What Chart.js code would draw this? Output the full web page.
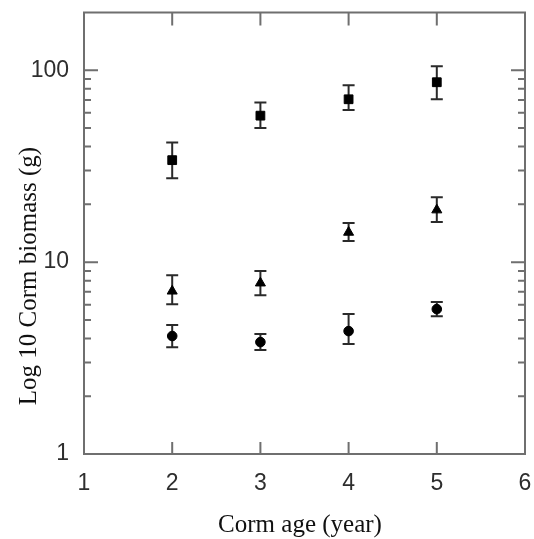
<!DOCTYPE html>
<html>
<head>
<meta charset="utf-8">
<script src="https://cdn.jsdelivr.net/npm/chart.js@4.4.1/dist/chart.umd.min.js"></script>
<style>
    html, body { margin: 0; padding: 0; background: #ffffff; }
    #box { width: 534px; height: 539px; }
</style>
</head>
<body>
<div id="box"><canvas id="biomasse"></canvas></div>
<script>
//------------------ DONNEES ------------------

const ages = [2, 3, 4, 5];

// carrés
const carres = [34, 58, 70.6, 86.6];
const carresBas = [27.4, 50, 62, 70.6];
const carresHaut = [42, 68, 83.5, 105];

// triangles
const triangles = [7.06, 7.78, 14.3, 18.7];
const trianglesBas = [6.04, 6.73, 12.9, 16.2];
const trianglesHaut = [8.55, 8.98, 16, 21.8];

// ronds
const ronds = [4.12, 3.83, 4.37, 5.69];
const rondsBas = [3.6, 3.48, 3.74, 5.23];
const rondsHaut = [4.7, 4.22, 5.36, 6.19];

const ticksX = [1, 2, 3, 4, 5, 6];
const ticksYMajeurs = [1, 10, 100];

//------------------------------------------------------------------

const points = (vals) => ages.map((a, i) => ({ x: a, y: vals[i] }));

const series = [
    { data: points(carres), bas: carresBas, haut: carresHaut, style: 'rect', rayon: 6.2 },
    { data: points(triangles), bas: trianglesBas, haut: trianglesHaut, style: 'triangle', rayon: 5.8 },
    { data: points(ronds), bas: rondsBas, haut: rondsHaut, style: 'circle', rayon: 4.8 }
];

const gris = '#6f6f6f';

// barres d'erreur dessinées avec les échelles du graphique
const barresErreur = {
    id: 'barresErreur',
    beforeDatasetsDraw(chart) {
        const c = chart.ctx;
        const sx = chart.scales.x, sy = chart.scales.y;
        c.save();
        c.strokeStyle = '#2a2a2a';
        c.lineWidth = 2;
        series.forEach(s => {
            ages.forEach((a, i) => {
                const px = sx.getPixelForValue(a);
                const y1 = sy.getPixelForValue(s.bas[i]);
                const y2 = sy.getPixelForValue(s.haut[i]);
                c.beginPath();
                c.moveTo(px, y1); c.lineTo(px, y2);
                c.moveTo(px - 6, y1); c.lineTo(px + 6, y1);
                c.moveTo(px - 6, y2); c.lineTo(px + 6, y2);
                c.stroke();
            });
        });
        c.restore();
    }
};

// cadre + graduations vers l'intérieur (gauche/droite/haut/bas)
const cadre = {
    id: 'cadre',
    afterDraw(chart) {
        const c = chart.ctx;
        const a = chart.chartArea;
        const sx = chart.scales.x, sy = chart.scales.y;
        c.save();
        c.strokeStyle = gris;
        c.lineWidth = 2;
        c.strokeRect(a.left, a.top, a.right - a.left, a.bottom - a.top);

        c.beginPath();
        // graduations x (haut et bas)
        ticksX.slice(1, -1).forEach(v => {
            const px = sx.getPixelForValue(v);
            c.moveTo(px, a.bottom); c.lineTo(px, a.bottom - 12);
            c.moveTo(px, a.top); c.lineTo(px, a.top + 13);
        });
        // graduations y log
        for (let dec = 1; dec <= 100; dec *= 10) {
            for (let k = 1; k <= 9; k++) {
                const v = dec * k;
                if (v <= sy.min || v >= sy.max) continue;
                const py = sy.getPixelForValue(v);
                const long = k === 1 ? 14 : 7;
                c.moveTo(a.left, py); c.lineTo(a.left + long, py);
                c.moveTo(a.right, py); c.lineTo(a.right - long, py);
            }
        }
        c.stroke();

        // titres des axes
        c.fillStyle = '#111111';
        c.font = '25px "Liberation Serif", serif';
        c.textAlign = 'center';
        c.textBaseline = 'middle';
        c.fillText('Corm age (year)', 300, 525);
        c.translate(29, 276);
        c.rotate(-Math.PI / 2);
        c.fillText('Log 10 Corm biomass (g)', 0, 0);
        c.restore();
    }
};

const ctx = document.getElementById('biomasse').getContext('2d');

new Chart(ctx, {
    type: 'scatter',
    plugins: [barresErreur, cadre],
    data: {
        datasets: series.map(s => ({
            data: s.data,
            pointStyle: s.style,
            pointRadius: s.rayon,
            pointHoverRadius: s.rayon,
            backgroundColor: '#000000',
            borderColor: '#000000',
            borderWidth: 1
        }))
    },
    options: {
        responsive: true,
        maintainAspectRatio: false,
        animation: false,
        layout: {
            padding: { top: 12.5, right: 9, left: 0, bottom: 0 }
        },
        scales: {
            x: {
                type: 'linear',
                min: 1,
                max: 6,
                grid: { display: false },
                border: { display: false },
                afterBuildTicks: (scale) => { scale.ticks = ticksX.map(v => ({ value: v })); },
                afterFit: (scale) => {
                    scale.height = 85;
                    scale.paddingLeft = 0;
                    scale.paddingRight = 0;
                },
                ticks: {
                    padding: 8,
                    color: '#2e2e2e',
                    font: { family: '"Liberation Sans", Arial, sans-serif', size: 23 },
                    callback: (v) => String(v)
                }
            },
            y: {
                type: 'logarithmic',
                min: 1,
                max: 200,
                grid: { display: false },
                border: { display: false },
                afterBuildTicks: (scale) => { scale.ticks = ticksYMajeurs.map(v => ({ value: v })); },
                afterFit: (scale) => {
                    scale.width = 84;
                    scale.paddingTop = 0;
                    scale.paddingBottom = 0;
                },
                ticks: {
                    padding: 7,
                    color: '#2e2e2e',
                    font: { family: '"Liberation Sans", Arial, sans-serif', size: 23 },
                    callback: (v) => String(v)
                }
            }
        },
        plugins: {
            legend: { display: false },
            tooltip: { enabled: false }
        }
    }
});
</script>
</body>
</html>
